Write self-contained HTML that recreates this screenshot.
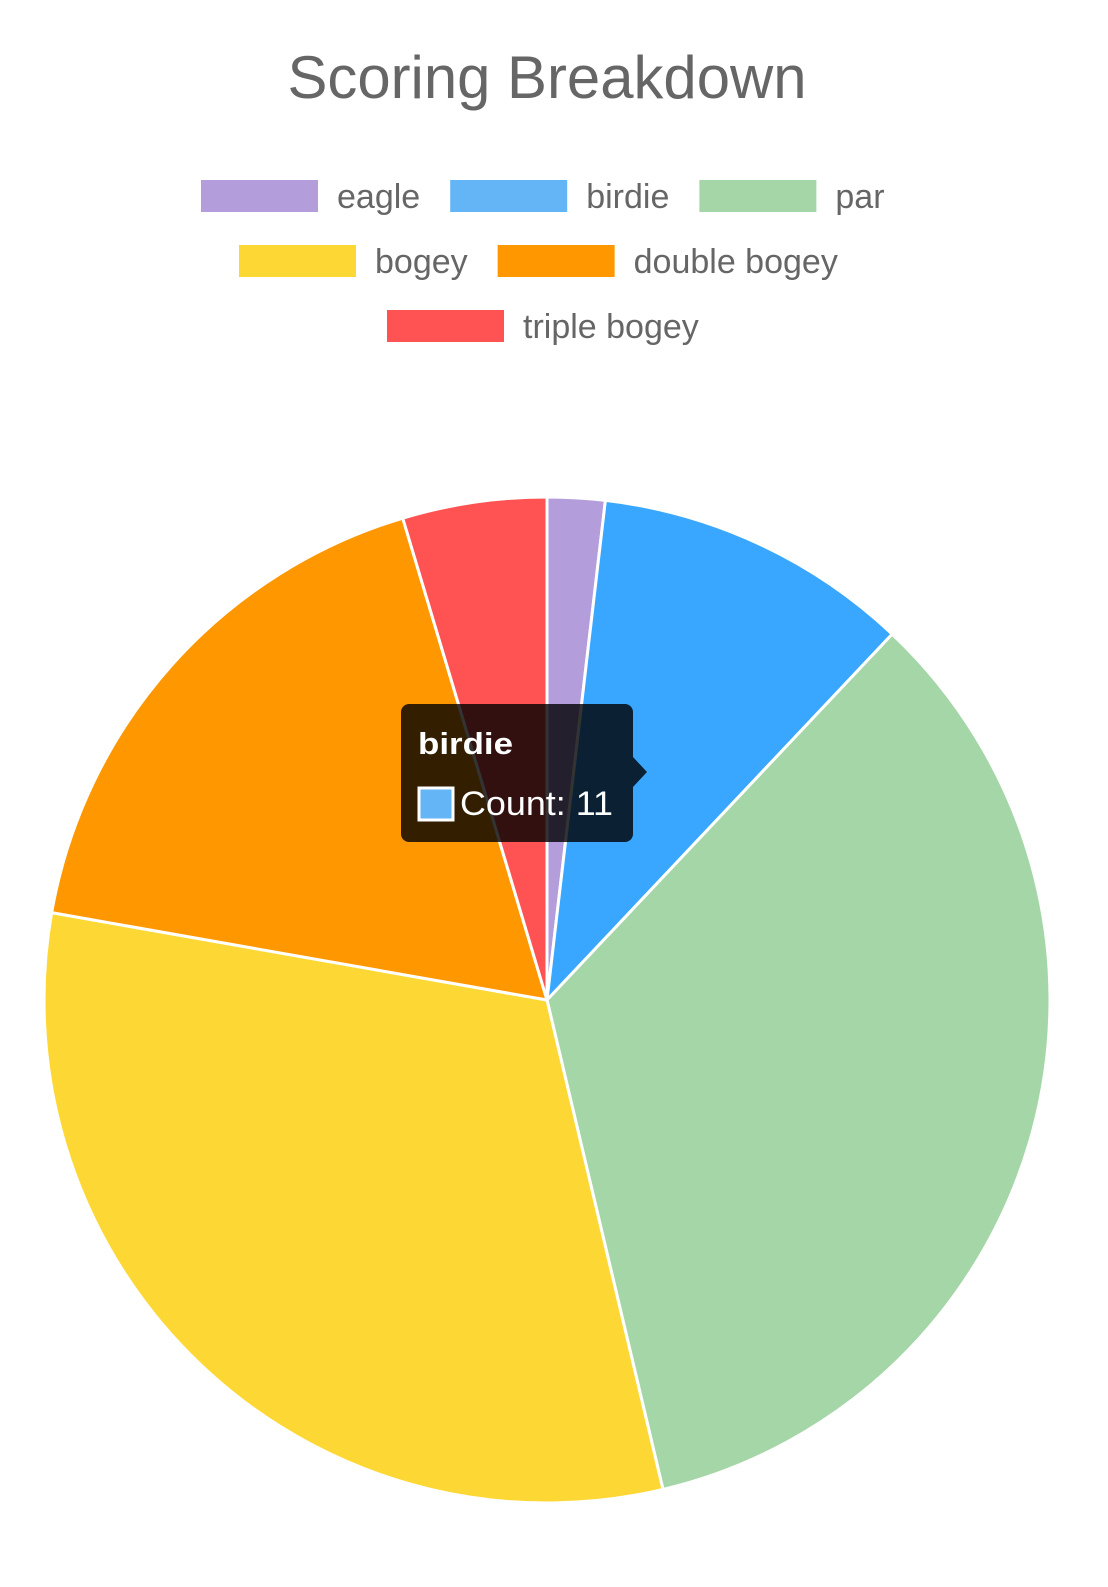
<!DOCTYPE html>
<html><head><meta charset="utf-8"><style>
html,body{margin:0;padding:0;background:#fff;}
svg{display:block;font-family:"Liberation Sans",Arial,sans-serif;}
</style></head><body>
<svg id="chart" width="1108" height="1587" viewBox="0 0 1108 1587">
<text x="547" y="98" text-anchor="middle" font-size="60" fill="#666" textLength="519" lengthAdjust="spacingAndGlyphs">Scoring Breakdown</text>
<g id="legend"></g>
<g id="slices"></g>
<g id="tooltip">
<rect x="401" y="704" width="232" height="138" rx="8" fill="rgba(0,0,0,0.8)"/>
<path d="M633,757 L647,772 L633,787 Z" fill="rgba(0,0,0,0.8)"/>
<text x="418" y="754" font-size="31" font-weight="bold" fill="#fff" textLength="95" lengthAdjust="spacingAndGlyphs">birdie</text>
<rect x="419" y="788" width="34" height="32" fill="#64b5f6" stroke="#fff" stroke-width="3"/>
<text x="460" y="815" font-size="34" fill="#fff" textLength="153" lengthAdjust="spacingAndGlyphs">Count: 11</text>
</g>
</svg>
<script>
const categories = ["eagle","birdie","par","bogey","double bogey","triple bogey"];
const counts = [2,11,37,34,19,5];
const sliceColors = ["#b39ddb","#39a7ff","#a5d6a7","#fdd835","#ff9800","#ff5252"];
const legendColors = ["#b39ddb","#64b5f6","#a5d6a7","#fdd835","#ff9800","#ff5252"];

const NS="http://www.w3.org/2000/svg";
const cx=547, cy=1000, r=503;
const total=counts.reduce((a,b)=>a+b,0);
const sg=document.getElementById('slices');
let acc=0;
function pt(a){return [cx+r*Math.sin(a), cy-r*Math.cos(a)];}
counts.forEach((v,i)=>{
  const a0=acc/total*2*Math.PI; acc+=v; const a1=acc/total*2*Math.PI;
  const p0=pt(a0), p1=pt(a1);
  const large=(a1-a0)>Math.PI?1:0;
  const p=document.createElementNS(NS,'path');
  p.setAttribute('d',`M${cx},${cy} L${p0[0]},${p0[1]} A${r},${r} 0 ${large} 1 ${p1[0]},${p1[1]} Z`);
  p.setAttribute('fill',sliceColors[i]);
  p.setAttribute('stroke','#fff');
  p.setAttribute('stroke-width','3');
  
  
  sg.appendChild(p);
});
const lg=document.getElementById('legend');
const rows=[[0,1,2],[3,4],[5]];
const rowStarts=[201,239,387];
const rowY=[196,261,326];
rows.forEach((row,ri)=>{
  let x=rowStarts[ri];
  row.forEach(i=>{
    const g=document.createElementNS(NS,'g');
    
    
    const b=document.createElementNS(NS,'rect');
    b.setAttribute('x',x);b.setAttribute('y',rowY[ri]-16);
    b.setAttribute('width',117);b.setAttribute('height',32);
    b.setAttribute('fill',legendColors[i]);
    
    
    const t=document.createElementNS(NS,'text');
    t.setAttribute('x',x+136);t.setAttribute('y',rowY[ri]+12);
    t.setAttribute('font-size','34');t.setAttribute('fill','#666');
    
    
    t.textContent=categories[i];
    g.appendChild(b);g.appendChild(t);lg.appendChild(g);
    x+=136+t.getComputedTextLength()+ 30;
  });
});
</script>
</body></html>
